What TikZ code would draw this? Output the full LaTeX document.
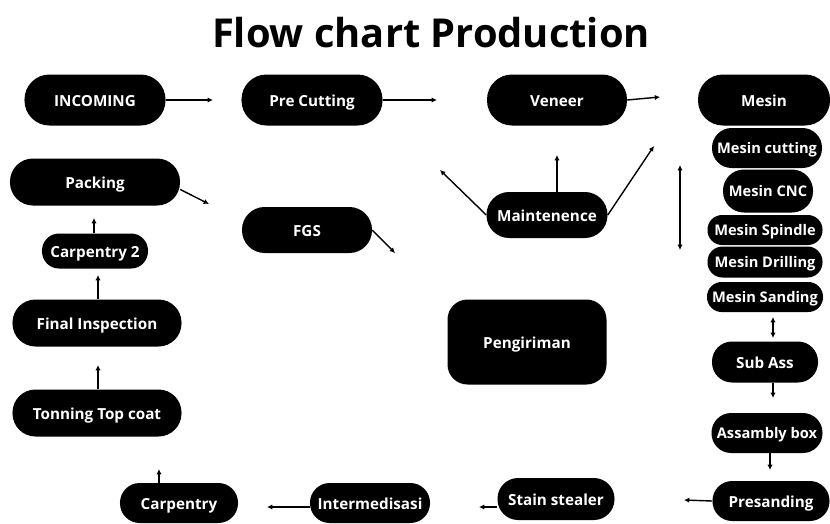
\documentclass[tikz,border=0pt]{standalone}
\usepackage{fontspec}
\setmainfont{Open Sans}
\usetikzlibrary{positioning, calc, arrows.meta}

\begin{document}
\begin{tikzpicture}[x=0.03cm, y=-0.03cm,
    pill/.style n args={3}{fill=black, text=white, font=\fontsize{13}{15}\selectfont\bfseries,
      minimum width=#1, minimum height=#2, rounded corners=#3,
      inner sep=0pt, text height=10.5pt, text depth=0pt},
    small/.style={font=\fontsize{12.5}{14}\selectfont\bfseries, text height=10pt},
    arr/.style={line width=1.2pt, -{Latex[length=4.5pt,width=4.5pt]}},
    dbl/.style={line width=1.2pt, {Latex[length=4.5pt,width=4.5pt]}-{Latex[length=4.5pt,width=4.5pt]}}]
  \useasboundingbox (0,0) rectangle (830,523);

  \node[anchor=base, font=\fontsize{34}{40}\selectfont\bfseries] (title) at (431,47) {Flow chart Production};

  \node[pill={4.23cm}{1.53cm}{0.75cm}] (incoming) at (95,100) {INCOMING};
  \node[pill={4.23cm}{1.53cm}{0.75cm}] (precut) at (312,100) {Pre Cutting};
  \node[pill={4.2cm}{1.53cm}{0.75cm}] (veneer) at (557,100) {Veneer};
  \node[pill={3.96cm}{1.53cm}{0.75cm}] (mesin) at (764,100) {Mesin};
  \node[pill={3.3cm}{1.2cm}{0.59cm}, small] (mcut) at (767,148) {Mesin cutting};
  \node[pill={2.7cm}{1.29cm}{0.63cm}, small] (mcnc) at (768,191) {Mesin CNC};
  \node[pill={3.45cm}{0.9cm}{0.44cm}, small] (mspindle) at (765,230) {Mesin Spindle};
  \node[pill={3.45cm}{0.93cm}{0.45cm}, small] (mdrill) at (765,262) {Mesin Drilling};
  \node[pill={3.48cm}{0.9cm}{0.44cm}, small] (msanding) at (765,297) {Mesin Sanding};
  \node[pill={3.18cm}{1.23cm}{0.6cm}] (subass) at (765,362) {Sub Ass};
  \node[pill={3.33cm}{1.2cm}{0.59cm}, small] (assbox) at (767,433) {Assambly box};
  \node[pill={3.51cm}{1.2cm}{0.59cm}] (presand) at (771,501) {Presanding};
  \node[pill={3.51cm}{1.26cm}{0.62cm}] (stain) at (556,499) {Stain stealer};
  \node[pill={3.6cm}{1.2cm}{0.59cm}] (inter) at (370,503) {Intermedisasi};
  \node[pill={3.54cm}{1.2cm}{0.59cm}] (carp) at (179,503) {Carpentry};
  \node[pill={5.07cm}{1.41cm}{0.69cm}] (tonning) at (97,413) {Tonning Top coat};
  \node[pill={5.07cm}{1.41cm}{0.69cm}] (final) at (97,323) {Final Inspection};
  \node[pill={3.18cm}{1.05cm}{0.51cm}] (carp2) at (95,251) {Carpentry 2};
  \node[pill={5.1cm}{1.41cm}{0.69cm}] (packing) at (95,182) {Packing};
  \node[pill={3.9cm}{1.38cm}{0.68cm}] (fgs) at (307,230) {FGS};
  \node[pill={3.63cm}{1.38cm}{0.68cm}] (maint) at (547,215) {Maintenence};
  \node[pill={4.77cm}{2.55cm}{0.6cm}] (kirim) at (527,342) {Pengiriman};

  \coordinate (incomingEnd) at (213,100);
  \coordinate (precutEnd) at (437,100);
  \coordinate (veneerEnd) at (660,97);
  \coordinate (packingEnd) at (209,204);
  \coordinate (fgsEnd) at (395,253);
  \coordinate (maintLeft) at (440,170);
  \coordinate (maintUp) at (557,155);
  \coordinate (maintRight) at (654,146);
  \coordinate (mesinTop) at (680,165);
  \coordinate (mesinBot) at (680,250);
  \coordinate (sandTop) at (773,317);
  \coordinate (sandBot) at (773,338);
  \coordinate (subEnd) at (773,398);
  \coordinate (assEnd) at (770,470);
  \coordinate (presandEnd) at (684,500);
  \coordinate (stainEnd) at (479,507);
  \coordinate (interEnd) at (267,507);
  \coordinate (carpEnd) at (159,469);
  \coordinate (tonningEnd) at (98,365);
  \coordinate (finalEnd) at (98,275);
  \coordinate (carp2End) at (94,218);

  \draw[arr] (incoming.east) -- (incomingEnd);
  \draw[arr] (precut.east) -- (precutEnd);
  \draw[arr] (veneer.east) -- (veneerEnd);
  \draw[arr] (packing.-5) -- (packingEnd);
  \draw[arr] (fgs.east) -- (fgsEnd);
  \draw[arr] (maint.west) -- (maintLeft);
  \draw[arr] (maintUp |- maint.north) -- (maintUp);
  \draw[arr] (maint.east) -- (maintRight);
  \draw[dbl] (mesinTop) -- (mesinBot);
  \draw[dbl] (sandTop) -- (sandBot);
  \draw[arr] (subEnd |- subass.south) -- (subEnd);
  \draw[arr] (assEnd |- assbox.south) -- (assEnd);
  \draw[arr] (presand.west) -- (presandEnd);
  \draw[arr] (stain.west |- stainEnd) -- (stainEnd);
  \draw[arr] (inter.west |- interEnd) -- (interEnd);
  \draw[arr] (carpEnd |- carp.north) -- (carpEnd);
  \draw[arr] (tonningEnd |- tonning.north) -- (tonningEnd);
  \draw[arr] (finalEnd |- final.north) -- (finalEnd);
  \draw[arr] (carp2End |- carp2.north) -- (carp2End);
\end{tikzpicture}
\end{document}
